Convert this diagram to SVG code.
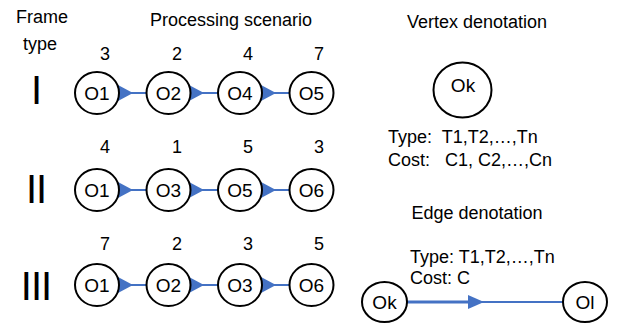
<svg xmlns="http://www.w3.org/2000/svg" width="624" height="325" viewBox="0 0 624 325">
<style>
text{font-family:"Liberation Sans",Arial,sans-serif;fill:#000}
.t{font-size:18px}
.n{font-size:18px;text-anchor:middle}
.lb{font-size:19px;text-anchor:middle}
.rn{font-size:40px;letter-spacing:-1px;text-anchor:middle}
.c{fill:#fff;stroke:#000;stroke-width:2}
.e{stroke:#4472C4;stroke-width:2;fill:none}
.a{fill:#4472C4}
</style>
<rect width="624" height="325" fill="#fff"/>
<text class="t" x="42" y="23" text-anchor="middle">Frame</text>
<text class="t" x="40" y="50" text-anchor="middle">type</text>
<text class="t" x="231" y="26" text-anchor="middle">Processing scenario</text>
<text class="rn" x="36" y="104">I</text>
<text class="rn" x="36" y="203">II</text>
<text class="rn" x="36" y="300">III</text>
<g id="connectors">
<g id="r1">
<line class="e" x1="119" y1="93" x2="147" y2="93"/><polygon class="a" points="118,85 133,93 118,101"/>
<line class="e" x1="190" y1="93" x2="218" y2="93"/><polygon class="a" points="189,85 204,93 189,101"/>
<line class="e" x1="262" y1="93" x2="290" y2="93"/><polygon class="a" points="261,85 276,93 261,101"/>
</g>
<g id="r2">
<line class="e" x1="119" y1="190" x2="147" y2="190"/><polygon class="a" points="118,182 133,190 118,198"/>
<line class="e" x1="190" y1="190" x2="218" y2="190"/><polygon class="a" points="189,182 204,190 189,198"/>
<line class="e" x1="262" y1="190" x2="290" y2="190"/><polygon class="a" points="261,182 276,190 261,198"/>
</g>
<g id="r3">
<line class="e" x1="119" y1="285" x2="147" y2="285"/><polygon class="a" points="118,277 133,285 118,293"/>
<line class="e" x1="190" y1="285" x2="218" y2="285"/><polygon class="a" points="189,277 204,285 189,293"/>
<line class="e" x1="262" y1="285" x2="290" y2="285"/><polygon class="a" points="261,277 276,285 261,293"/>
</g>
<g id="edge-legend">
<line x1="407" y1="302" x2="470" y2="302" stroke="#4472C4" stroke-width="3"/>
<line x1="480" y1="302" x2="563" y2="302" stroke="#4472C4" stroke-width="2"/>
<polygon class="a" points="468,295 484,302 468,309"/>
</g>
</g>
<g id="row1">
<g id="r1n1"><text class="n" x="105" y="60">3</text><ellipse class="c" cx="97" cy="93" rx="22" ry="21"/><text class="lb" x="97" y="100">O1</text></g>
<g id="r1n2"><text class="n" x="177" y="60">2</text><ellipse class="c" cx="168.5" cy="93" rx="22" ry="21"/><text class="lb" x="168.5" y="100">O2</text></g>
<g id="r1n3"><text class="n" x="248" y="60">4</text><ellipse class="c" cx="240" cy="93" rx="22" ry="21"/><text class="lb" x="240" y="100">O4</text></g>
<g id="r1n4"><text class="n" x="319" y="60">7</text><ellipse class="c" cx="311.5" cy="93" rx="22" ry="21"/><text class="lb" x="311.5" y="100">O5</text></g>
</g>
<g id="row2">
<g id="r2n1"><text class="n" x="105" y="153">4</text><ellipse class="c" cx="97" cy="190" rx="22" ry="21"/><text class="lb" x="97" y="197">O1</text></g>
<g id="r2n2"><text class="n" x="177" y="153">1</text><ellipse class="c" cx="168.5" cy="190" rx="22" ry="21"/><text class="lb" x="168.5" y="197">O3</text></g>
<g id="r2n3"><text class="n" x="248" y="153">5</text><ellipse class="c" cx="240" cy="190" rx="22" ry="21"/><text class="lb" x="240" y="197">O5</text></g>
<g id="r2n4"><text class="n" x="319" y="153">3</text><ellipse class="c" cx="311.5" cy="190" rx="22" ry="21"/><text class="lb" x="311.5" y="197">O6</text></g>
</g>
<g id="row3">
<g id="r3n1"><text class="n" x="105" y="250">7</text><ellipse class="c" cx="97" cy="285" rx="22" ry="21"/><text class="lb" x="97" y="292">O1</text></g>
<g id="r3n2"><text class="n" x="177" y="250">2</text><ellipse class="c" cx="168.5" cy="285" rx="22" ry="21"/><text class="lb" x="168.5" y="292">O2</text></g>
<g id="r3n3"><text class="n" x="248" y="250">3</text><ellipse class="c" cx="240" cy="285" rx="22" ry="21"/><text class="lb" x="240" y="292">O3</text></g>
<g id="r3n4"><text class="n" x="319" y="250">5</text><ellipse class="c" cx="311.5" cy="285" rx="22" ry="21"/><text class="lb" x="311.5" y="292">O6</text></g>
</g>
<g id="vertex-legend">
<text class="t" x="477" y="28" text-anchor="middle">Vertex denotation</text>
<ellipse class="c" cx="462.5" cy="90" rx="29" ry="27.5"/>
<text class="lb" x="463" y="92">Ok</text>
<text class="t" x="388" y="143" xml:space="preserve">Type:  T1,T2,…,Tn</text>
<text class="t" x="388" y="166" xml:space="preserve">Cost:   C1, C2,…,Cn</text>
</g>
<g id="edge-legend-text">
<text class="t" x="477" y="219" text-anchor="middle">Edge denotation</text>
<text class="t" x="410" y="263">Type: T1,T2,…,Tn</text>
<text class="t" x="410" y="284">Cost: C</text>
</g>
<g id="nodeOk"><ellipse class="c" cx="384.5" cy="302" rx="22.5" ry="20"/><text class="lb" x="384.5" y="309">Ok</text></g>
<g id="nodeOl"><ellipse class="c" cx="585" cy="302" rx="22" ry="20"/><text class="lb" x="585" y="309">Ol</text></g>
</svg>
